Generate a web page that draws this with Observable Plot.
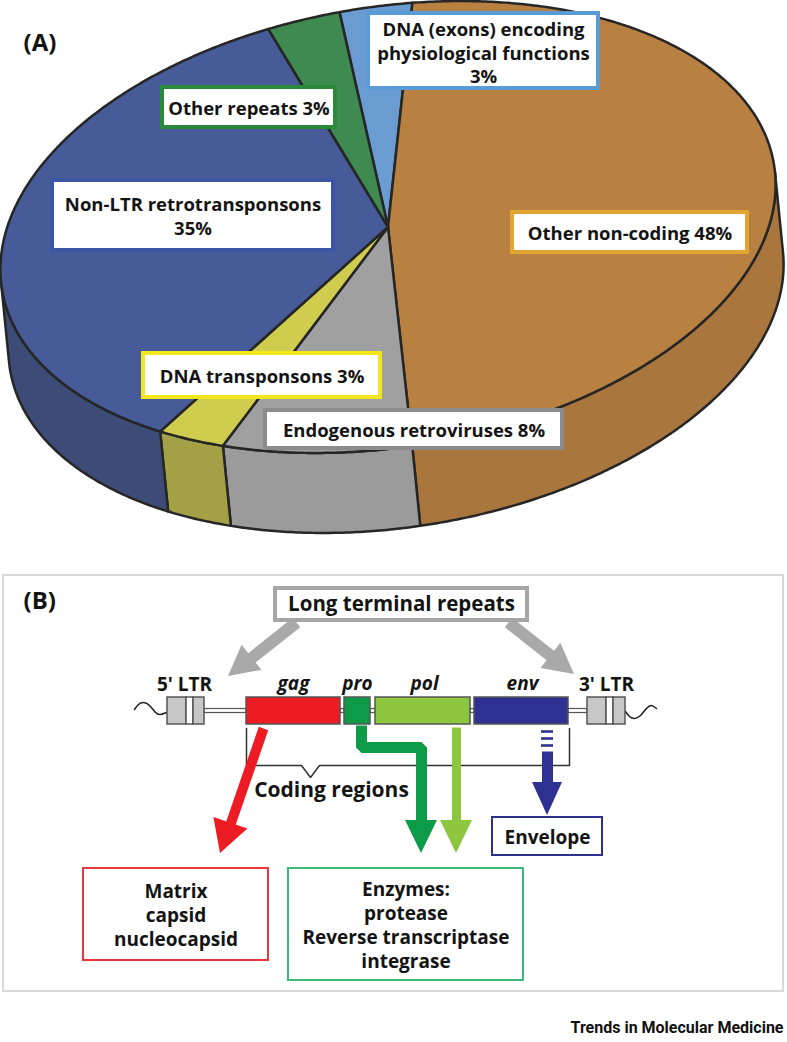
<!DOCTYPE html>
<html><head><meta charset="utf-8">
<script src="https://cdn.jsdelivr.net/npm/d3@7"></script>
<script src="https://cdn.jsdelivr.net/npm/@observablehq/plot@0.6"></script>
<style>
body{margin:0;background:#fff;}
#chart{width:787px;height:1042px;}
</style></head><body><div id="chart"></div>
<script>
// ---------------- DATA ----------------
const pieCategories = ["DNA (exons) encoding physiological functions", "Other non-coding", "Endogenous retroviruses", "DNA transposons", "Non-LTR retrotransponsons", "Other repeats"];
const pieValues = [3, 48, 8, 3, 35, 3];
const pieLabels = ["DNA (exons) encoding\nphysiological functions\n3%", "Other non-coding 48%", "Endogenous retroviruses 8%", "DNA transponsons 3%", "Non-LTR retrotransponsons\n35%", "Other repeats 3%"];
const genes = ["gag", "pro", "pol", "env"];
const ltrLabels = ["5' LTR", "3' LTR"];
const products = ["Matrix\ncapsid\nnucleocapsid", "Enzymes:\nprotease\nReverse transcriptase\nintegrase", "Envelope"];
const headerLabel = "Long terminal repeats";
const codingLabel = "Coding regions";
const panelLabels = ["(A)", "(B)"];
const footer = "Trends in Molecular Medicine";

// ---------------- STYLES ----------------
const topColors = ["#6a9bd1", "#b88142", "#a0a0a0", "#d0cc4e", "#475b98", "#3f8a50"];
const sideColors = ["#5a86b8", "#a9773e", "#9b9b9b", "#a4a046", "#3c4c77", "#35754a"];
const boxColors = ["#5b9bd5", "#e3a532", "#8c8c8c", "#f2e61c", "#3c55a5", "#2a8a3a"];
const geneColors = ["#ed1c24", "#0d9b48", "#8dc63f", "#2e3192"];
const productColors = ["#e8383d", "#3cb878", "#2e3192"];

// ---------------- LAYOUT ----------------
const W = 787, H = 1042;
const pie = {cx: 388, cy: 227, a: 391, b: 220, tilt: 9.17, start: -92, dx: 8, dy: 80};
const pieBoxes = [
  [368, 598, 13, 88], [512, 747, 212, 252], [265, 562, 410, 448],
  [143, 380, 353, 397], [52, 333, 180, 250], [162, 335, 87, 127]
];
const font = "'Open Sans', Lato, sans-serif";

// ellipse helpers
const rad = Math.PI / 180;
const u = [Math.cos(pie.tilt * rad), -Math.sin(pie.tilt * rad)];
const v = [Math.sin(pie.tilt * rad), Math.cos(pie.tilt * rad)];
function P(tDeg) {
  const t = tDeg * rad;
  return [pie.cx + pie.a * Math.cos(t) * u[0] + pie.b * Math.sin(t) * v[0],
          pie.cy + pie.a * Math.cos(t) * u[1] + pie.b * Math.sin(t) * v[1]];
}
function arcTs(t1, t2) {
  const n = Math.max(2, Math.ceil(Math.abs(t2 - t1) / 0.5));
  return d3.range(n + 1).map(i => t1 + (t2 - t1) * i / n);
}
// slice angles from values
const total = d3.sum(pieValues);
const slices = [];
{
  let t = pie.start;
  pieValues.forEach((val, i) => {
    const t2 = t + val / total * 360;
    slices.push({i, t1: t, t2});
    t = t2;
  });
}
// visible side range (tangent parallel to extrusion)
const cu = u[0] * pie.dy - u[1] * pie.dx, cv = v[0] * pie.dy - v[1] * pie.dx;
const ts0 = Math.atan((pie.b * cv) / (pie.a * cu)) / rad;
const ts1 = ts0 + 180;

const topData = [], sideData = [];
slices.forEach(s => {
  arcTs(s.t1, s.t2).forEach(t => {
    const [x, y] = P(t);
    topData.push({id: s.i, x1: x, y1: y, x2: pie.cx, y2: pie.cy, fill: topColors[s.i]});
  });
  [0, 360, -360].forEach(off => {
    const a1 = Math.max(s.t1 + off, ts0), a2 = Math.min(s.t2 + off, ts1);
    if (a2 > a1) {
      arcTs(a1, a2).forEach(t => {
        const [x, y] = P(t);
        sideData.push({id: s.i + "_" + off, x1: x, y1: y, x2: x + pie.dx, y2: y + pie.dy, fill: sideColors[s.i]});
      });
    }
  });
});

const pieBoxData = pieBoxes.map((b, i) => ({x1: b[0], x2: b[1], y1: b[2], y2: b[3], stroke: boxColors[i], text: pieLabels[i], cx: (b[0] + b[1]) / 2, cy: (b[2] + b[3]) / 2 + (i === 0 ? 1 : 0)}));

// ---------------- PANEL B LAYOUT ----------------
const gy1 = 697, gy2 = 724;
const geneX = [[246, 340], [344, 370], [375, 470], [474, 568]];
const geneData = genes.map((g, i) => ({x1: geneX[i][0], x2: geneX[i][1], y1: gy1, y2: gy2, fill: geneColors[i], label: g, lx: [293, 357, 424, 522][i]}));
const ltrParts = [
  {x1: 167, x2: 186, fill: "#c7c7c7"}, {x1: 186, x2: 193, fill: "#ffffff"}, {x1: 193, x2: 204, fill: "#c7c7c7"},
  {x1: 587, x2: 606, fill: "#c7c7c7"}, {x1: 606, x2: 613, fill: "#ffffff"}, {x1: 613, x2: 625, fill: "#c7c7c7"}
];
const connectors = [[204, 246], [340, 344], [370, 375], [470, 474], [568, 587]].map(c => ({x1: c[0], x2: c[1], y1: 708.5, y2: 712.5}));
const squiggles = [
  {id: "L", pts: [[134, 709], [138, 704], [143, 702], [149, 705], [155, 712], [160, 714], [166, 712]]},
  {id: "R", pts: [[625, 711], [629, 716], [634, 718], [640, 715], [646, 708], [651, 705], [656, 708]]}
].flatMap(s => s.pts.map(p => ({id: s.id, x: p[0], y: p[1]})));
const bracket = [[246, 728], [246, 765], [301, 765], [310, 777], [319, 765], [569, 765], [569, 728]].map(p => ({x: p[0], y: p[1]}));

function arrowParts(id, pts, shaftW, headW, headL) {
  const n = pts.length, tip = pts[n - 1], prev = pts[n - 2];
  const dx = tip[0] - prev[0], dy = tip[1] - prev[1], L = Math.hypot(dx, dy);
  const ux = dx / L, uy = dy / L, px = -uy, py = ux;
  const base = [tip[0] - ux * headL, tip[1] - uy * headL];
  const shaft = pts.slice(0, n - 1).concat([[base[0] + ux * 2, base[1] + uy * 2]]).map(p => ({id, x: p[0], y: p[1]}));
  const head = [
    {id, x1: base[0] + px * headW / 2, y1: base[1] + py * headW / 2, x2: tip[0], y2: tip[1]},
    {id, x1: base[0] - px * headW / 2, y1: base[1] - py * headW / 2, x2: tip[0], y2: tip[1]}
  ];
  return {shaft, head, w: shaftW};
}
const arrows = [
  {color: "#a9a9a9", ...arrowParts("g1", [[296, 622], [228, 676]], 12, 32, 30)},
  {color: "#a9a9a9", ...arrowParts("g2", [[508, 622], [574, 674]], 12, 32, 30)},
  {color: geneColors[0], ...arrowParts("r", [[263, 728], [220, 853]], 10, 36, 32)},
  {color: geneColors[1], ...arrowParts("dg", [[361, 725], [361, 747], [421, 747], [421, 853]], 11, 32, 33)},
  {color: geneColors[2], ...arrowParts("lg", [[456, 727], [456, 853]], 9, 32, 33)},
  {color: geneColors[3], ...arrowParts("b", [[547, 751], [547, 815]], 11, 30, 33)}
];
const blueDashes = [731, 738, 745].map(y => ({x1: 541, x2: 553, y}));

const productBoxes = [[83, 268, 868, 960], [288, 523, 868, 980], [492, 602, 817, 855]].map((b, i) => ({x1: b[0], x2: b[1], y1: b[2], y2: b[3], stroke: productColors[i], text: products[i], cx: (b[0] + b[1]) / 2, cy: (b[2] + b[3]) / 2}));

const arrowMarks = arrows.flatMap(a => [
  Plot.line(a.shaft, {x: "x", y: "y", stroke: a.color, strokeWidth: a.w, strokeLinejoin: "miter", strokeLinecap: "butt"}),
  Plot.area(a.head, {x1: "x1", y1: "y1", x2: "x2", y2: "y2", fill: a.color})
]);

const bold = {fontWeight: "bold", fontFamily: font, fill: "#141414"};

const chart = Plot.plot({
  width: W, height: H, margin: 0,
  x: {domain: [0, W], range: [0, W], axis: null},
  y: {domain: [0, H], range: [0, H], axis: null},
  color: {type: "identity"},
  style: {background: "white", overflow: "visible"},
  marks: [
    // --- Panel A: 3D pie ---
    Plot.area(sideData, {x1: "x1", y1: "y1", x2: "x2", y2: "y2", z: "id", fill: "fill", stroke: "#262626", strokeWidth: 2.5, strokeLinejoin: "round"}),
    Plot.area(topData, {x1: "x1", y1: "y1", x2: "x2", y2: "y2", z: "id", fill: "fill", stroke: "#262626", strokeWidth: 2.5, strokeLinejoin: "round"}),
    Plot.rect(pieBoxData, {x1: "x1", x2: "x2", y1: "y1", y2: "y2", fill: "white", stroke: "stroke", strokeWidth: 4}),
    Plot.text(pieBoxData, {x: "cx", y: "cy", text: "text", fontSize: 18.5, lineHeight: 1.27, ...bold}),
    Plot.text([panelLabels[0]], {x: 23, y: 43, text: d => d, textAnchor: "start", fontSize: 24, ...bold}),
    // --- Panel B frame ---
    Plot.rect([0], {x1: 3, x2: 783, y1: 575, y2: 991, fill: "none", stroke: "#d9d9d9", strokeWidth: 2}),
    Plot.text([panelLabels[1]], {x: 23, y: 601, text: d => d, textAnchor: "start", fontSize: 24, ...bold}),
    ...arrowMarks.slice(0, 4),
    Plot.rect([0], {x1: 275, x2: 527, y1: 588, y2: 620, fill: "white", stroke: "#a6a6a6", strokeWidth: 4}),
    Plot.text([headerLabel], {x: 401, y: 604, text: d => d, fontSize: 20.5, ...bold}),
    // genome
    Plot.line(squiggles, {x: "x", y: "y", z: "id", curve: "natural", stroke: "#222", strokeWidth: 1.6}),
    Plot.rect(connectors, {x1: "x1", x2: "x2", y1: "y1", y2: "y2", fill: "white", stroke: "#555", strokeWidth: 1.2}),
    Plot.rect(ltrParts, {x1: "x1", x2: "x2", y1: gy1, y2: gy2, fill: "fill", stroke: "#555", strokeWidth: 1.5}),
    Plot.rect(geneData, {x1: "x1", x2: "x2", y1: "y1", y2: "y2", fill: "fill", stroke: "#555", strokeWidth: 1.5}),
    Plot.text(geneData, {x: "lx", y: 683, text: "label", fontSize: 19, fontStyle: "italic", ...bold}),
    Plot.text(ltrLabels, {x: [184, 606], y: 684, text: d => d, fontSize: 19, ...bold}),
    Plot.line(bracket, {x: "x", y: "y", stroke: "#333", strokeWidth: 1.5, strokeLinejoin: "miter"}),
    Plot.text([codingLabel], {x: 331, y: 790, text: d => d, fontSize: 21, ...bold}),
    ...arrowMarks.slice(4),
    Plot.ruleY(blueDashes, {x1: "x1", x2: "x2", y: "y", stroke: geneColors[3], strokeWidth: 2.6}),
    Plot.rect(productBoxes, {x1: "x1", x2: "x2", y1: "y1", y2: "y2", fill: "white", stroke: "stroke", strokeWidth: 2}),
    Plot.text(productBoxes, {x: "cx", y: "cy", text: "text", fontSize: 19, lineHeight: 1.27, ...bold}),
    Plot.text([footer], {x: 783, y: 1027, text: d => d, textAnchor: "end", fontSize: 16, fontWeight: "bold", fontFamily: "Roboto, 'Liberation Sans', sans-serif", fill: "#111"})
  ]
});
document.getElementById("chart").appendChild(chart);
</script></body></html>
